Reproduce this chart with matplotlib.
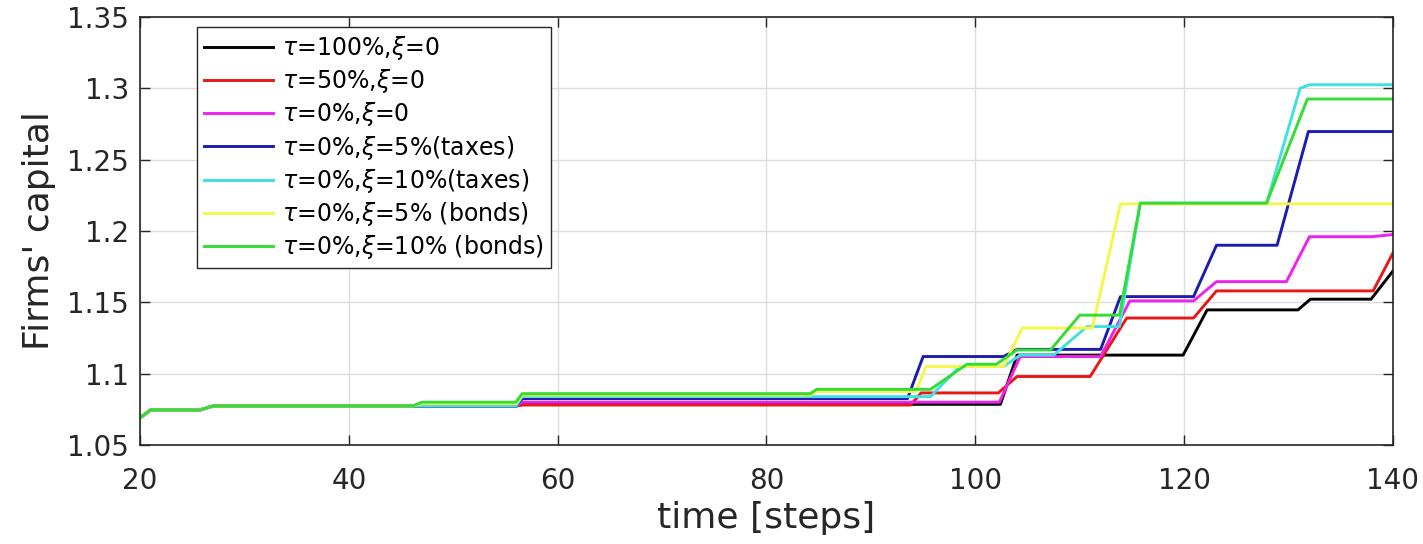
import matplotlib
matplotlib.use("Agg")
import matplotlib.pyplot as plt

plt.rcParams['font.family'] = ['DejaVu Sans']
plt.rcParams['mathtext.fontset'] = 'dejavusans'

labels = [r'$\tau$=100%,$\xi$=0', r'$\tau$=50%,$\xi$=0', r'$\tau$=0%,$\xi$=0',
          r'$\tau$=0%,$\xi$=5%(taxes)', r'$\tau$=0%,$\xi$=10%(taxes)',
          r'$\tau$=0%,$\xi$=5% (bonds)', r'$\tau$=0%,$\xi$=10% (bonds)']
colors = ['#000000', '#e81818', '#ee22ee', '#1c1cb0', '#40e0e0', '#f6f64a', '#33dd33']

t_black = [20, 21, 25.7, 27, 56, 56.6, 102.4, 104, 119.9, 122.2, 130.9, 132.1, 137.9, 140]
v_black = [1.069, 1.0745, 1.0745, 1.0773, 1.0773, 1.0785, 1.0785, 1.113, 1.113, 1.1447,
           1.1447, 1.1522, 1.1522, 1.172]

t_red = [20, 21, 25.7, 27, 56, 56.6, 93.8, 94.8, 102.2, 104, 111, 114.5, 120.9, 123.1, 138.1, 140]
v_red = [1.069, 1.0745, 1.0745, 1.0773, 1.0773, 1.078, 1.078, 1.0865, 1.0865, 1.098, 1.098,
         1.139, 1.139, 1.158, 1.158, 1.1846]

t_mag = [20, 21, 25.7, 27, 56, 56.6, 102.3, 104.3, 112, 114.8, 120.9, 123.1, 129.8, 132, 138, 140]
v_mag = [1.069, 1.0745, 1.0745, 1.0773, 1.0773, 1.080, 1.080, 1.112, 1.112, 1.151, 1.151,
         1.1645, 1.1645, 1.196, 1.196, 1.1975]

t_blue = [20, 21, 25.7, 27, 56, 56.6, 93.5, 95, 102.7, 104, 112, 113.9, 120.9, 123.1, 128.9, 131.9, 140]
v_blue = [1.069, 1.0745, 1.0745, 1.0773, 1.0773, 1.0825, 1.0825, 1.112, 1.112, 1.117, 1.117,
          1.154, 1.154, 1.190, 1.190, 1.2697, 1.2697]

t_cyan = [20, 21, 25.7, 27, 56, 56.6, 95.7, 98.5, 102.7, 104.3, 107.5, 110.7, 113.8, 115.8,
          127.9, 131.1, 132, 140]
v_cyan = [1.069, 1.0745, 1.0745, 1.0773, 1.0773, 1.0839, 1.0839, 1.105, 1.105, 1.113, 1.113,
          1.133, 1.133, 1.2195, 1.2195, 1.300, 1.3025, 1.3025]

t_yel = [20, 21, 25.7, 27, 46.1, 47, 56, 56.6, 84.2, 84.8, 94.3, 95.3, 102.7, 104.5, 111.2, 113.9, 140]
v_yel = [1.069, 1.0745, 1.0745, 1.0773, 1.0773, 1.079, 1.079, 1.085, 1.085, 1.0875, 1.0875,
         1.105, 1.105, 1.132, 1.132, 1.219, 1.219]

t_grn = [20, 21, 25.7, 27, 46.1, 47, 56, 56.6, 84.2, 84.8, 95.7, 99.2, 102, 104, 107.2, 110,
         113.8, 115.8, 127.9, 131.8, 140]
v_grn = [1.069, 1.0745, 1.0745, 1.0773, 1.0773, 1.080, 1.080, 1.086, 1.086, 1.089, 1.089,
         1.1066, 1.1066, 1.1166, 1.1166, 1.141, 1.141, 1.2195, 1.2195, 1.2925, 1.2925]

x_ticks = [20, 40, 60, 80, 100, 120, 140]
y_ticks = [1.05, 1.1, 1.15, 1.2, 1.25, 1.3, 1.35]
y_ticklabels = ['1.05', '1.1', '1.15', '1.2', '1.25', '1.3', '1.35']

series = [(t_black, v_black), (t_red, v_red), (t_mag, v_mag), (t_blue, v_blue),
          (t_cyan, v_cyan), (t_yel, v_yel), (t_grn, v_grn)]

fig = plt.figure(figsize=(14.23, 5.44), dpi=100)
ax = fig.add_axes([0.0984, 0.182, 0.8805, 0.7868])

for (t, v), c, lab in zip(series, colors, labels):
    ax.plot(t, v, color=c, lw=2.1, label=lab, solid_joinstyle='round')

ax.set_xlim(20, 140)
ax.set_ylim(1.05, 1.35)
ax.set_xticks(x_ticks)
ax.set_yticks(y_ticks)
ax.set_yticklabels(y_ticklabels)
ax.grid(True, color='#dcdcdc', lw=1.0)
ax.set_axisbelow(True)
edge = '#262626'
for s in ax.spines.values():
    s.set_color(edge)
    s.set_linewidth(1.2)
ax.tick_params(direction='in', length=7, width=1.0, colors=edge, labelsize=20,
               top=True, right=True, labelcolor='#262626')
ax.tick_params(axis='x', pad=16)
ax.tick_params(axis='y', pad=8)

ax.set_xlabel('time [steps]', fontsize=26, color='#262626', labelpad=4)
ax.set_ylabel("Firms' capital", fontsize=26, color='#262626', labelpad=8)

leg = ax.legend(loc='upper left', bbox_to_anchor=(0.0455, 0.9766), fontsize=17,
                frameon=True, fancybox=False, framealpha=1, edgecolor=edge,
                handlelength=2.9, handletextpad=0.4, labelspacing=0.22,
                borderpad=0.3, borderaxespad=0)
leg.get_frame().set_linewidth(1.0)

fig.savefig('out.png', dpi=100)
